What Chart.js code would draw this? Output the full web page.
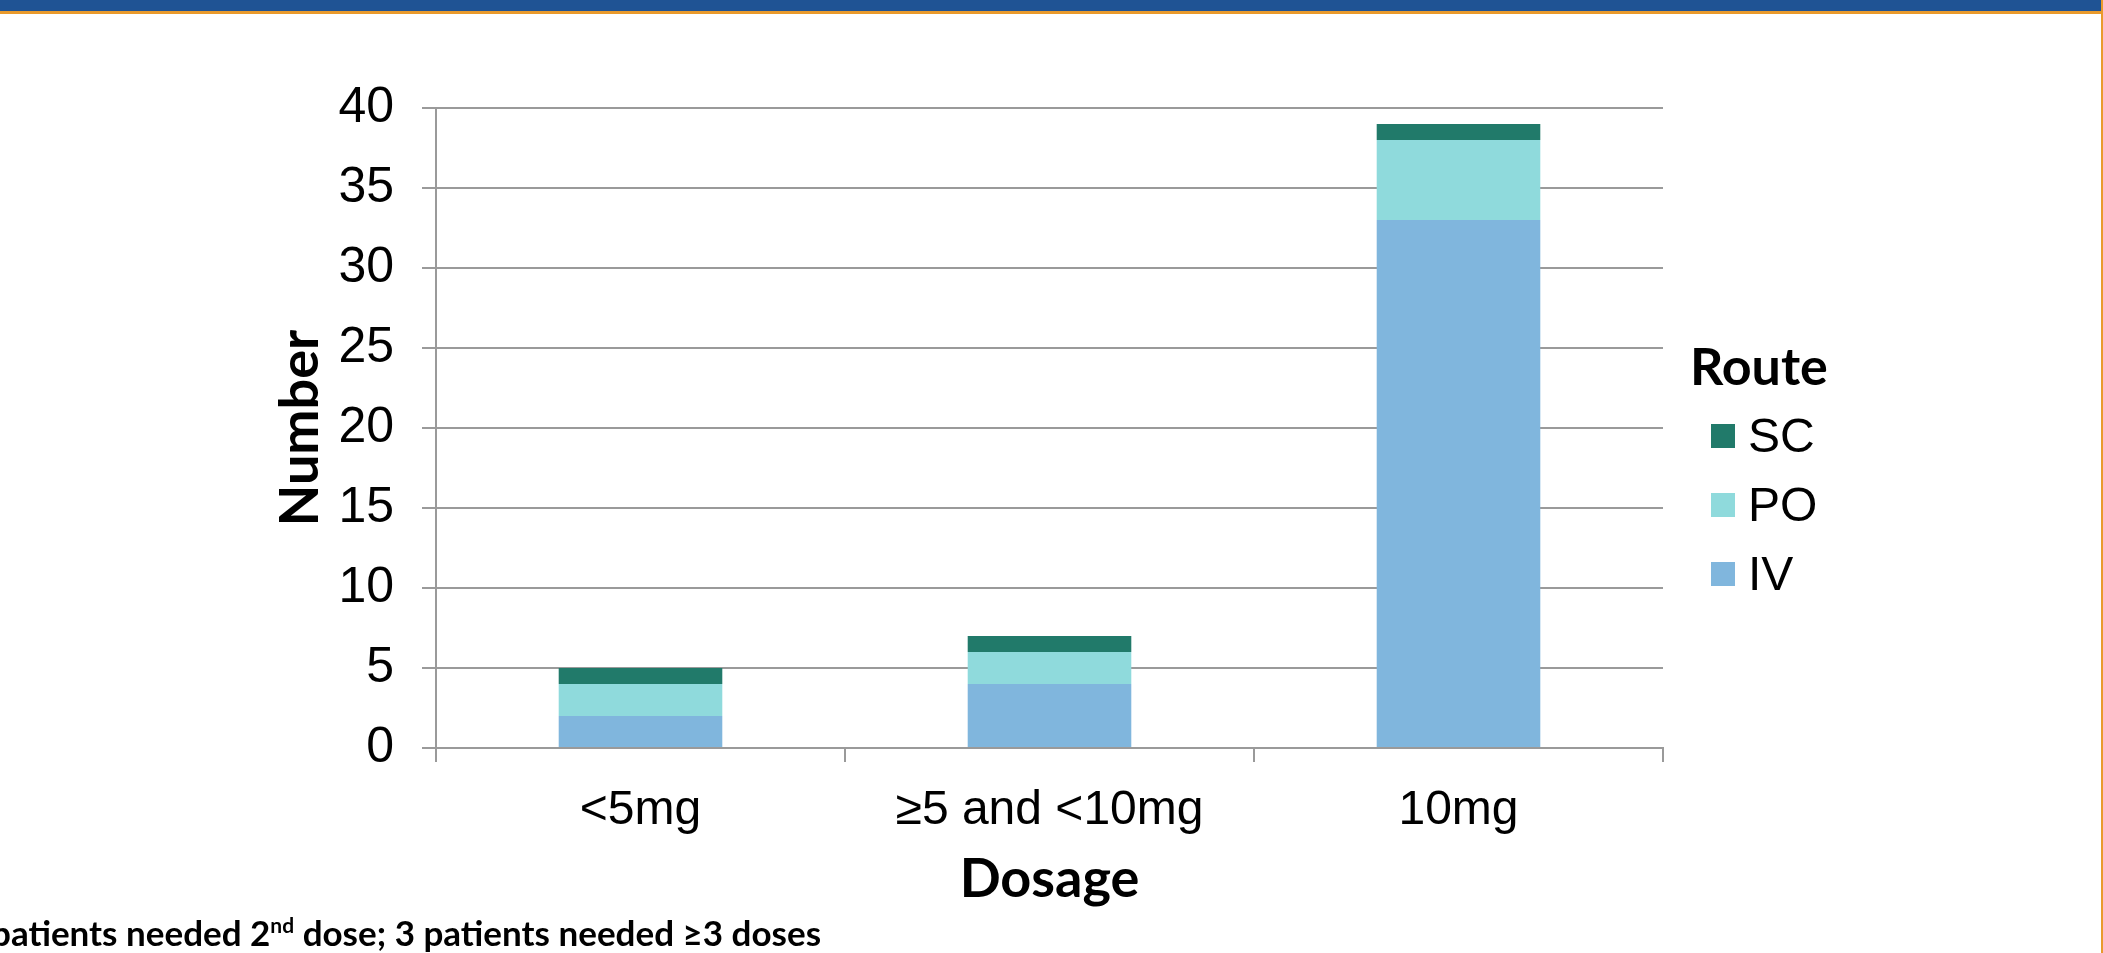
<!DOCTYPE html>
<html>
<head>
<meta charset="utf-8">
<script src="https://cdn.jsdelivr.net/npm/chart.js@4.4.1/dist/chart.umd.min.js"></script>
<style>
  html, body { margin: 0; padding: 0; background: #fff; }
  body { width: 2103px; height: 953px; position: relative; overflow: hidden; }
  #band { position: absolute; left: 0; top: 0; width: 2101px; height: 11px; background: #1f5394; }
  #bandLine { position: absolute; left: 0; top: 11px; width: 2103px; height: 3px; background: #e99a2c; }
  #edge { position: absolute; right: 0; top: 0; width: 2px; height: 953px; background: #e99a2c; }
  #wrap { position: absolute; left: 0; top: 0; width: 2103px; height: 953px; }
  #legend { position: absolute; left: 1690px; top: 335px; font-family: "Liberation Sans", Arial, sans-serif; }
  #legend .title { font-family: Lato, "Open Sans", sans-serif; font-weight: bold; font-size: 52px; line-height: 60px; margin-bottom: 6px; }
  #legend .item { display: flex; align-items: center; height: 69px; font-size: 48px; padding-left: 21px; }
  #legend .box { width: 24px; height: 24px; margin-right: 13px; }
  #note { position: absolute; left: -9px; top: 911px; font-family: Lato, "Open Sans", sans-serif; font-weight: bold; font-size: 35px; white-space: nowrap; }
  #note sup { font-size: 21px; }
</style>
</head>
<body>
<div id="band"></div>
<div id="bandLine"></div>
<div id="edge"></div>
<div id="wrap"><canvas id="chart" width="2103" height="953"></canvas></div>
<div id="legend"></div>
<div id="note">patients needed 2<sup>nd</sup> dose; 3 patients needed ≥3 doses</div>

<script>
// chart data
const dosages = ["<5mg", "≥5 and <10mg", "10mg"];
const ivCounts = [2, 4, 33];
const poCounts = [2, 2, 5];
const scCounts = [1, 1, 1];
const routeNames = ["IV", "PO", "SC"];
const routeColors = ["#80b6dd", "#8fdadc", "#217a6a"];

const axisGrey = "#9a9a9a";
const textFont = "'Liberation Sans', Arial, sans-serif";
const boldFont = "Lato, 'Open Sans', sans-serif";

const datasets = [ivCounts, poCounts, scCounts].map((vals, i) => ({
  label: routeNames[i],
  data: vals,
  backgroundColor: routeColors[i],
  borderWidth: 0,
  categoryPercentage: 1,
  barPercentage: 0.4,
}));

const chart = new Chart(document.getElementById("chart"), {
  type: "bar",
  data: { labels: dosages, datasets: datasets },
  options: {
    responsive: false,
    animation: false,
    layout: { padding: { left: 0, top: 108, right: 440, bottom: 0 } },
    plugins: { legend: { display: false }, tooltip: { enabled: false } },
    scales: {
      x: {
        stacked: true,
        grid: { drawOnChartArea: false, color: axisGrey, lineWidth: 2, tickLength: 14 },
        border: { color: axisGrey, width: 2 },
        ticks: { color: "#000", padding: 20, font: { family: textFont, size: 48 } },
        title: {
          display: true, text: "Dosage", color: "#000",
          font: { family: boldFont, size: 54, weight: "bold" },
          padding: { top: 0, bottom: 41 },
        },
        afterFit: (s) => { s.height = 205; },
      },
      y: {
        stacked: true,
        min: 0,
        max: 40,
        grid: { color: axisGrey, lineWidth: 2, tickLength: 14 },
        border: { color: axisGrey, width: 2 },
        ticks: { stepSize: 5, color: "#000", padding: 28, font: { family: textFont, size: 50 } },
        title: {
          display: true, text: "Number", color: "#000",
          font: { family: boldFont, size: 54, weight: "bold" },
          padding: { top: 268, bottom: 0 },
        },
        afterFit: (s) => { s.width = 436; },
      },
    },
  },
});

// legend in the slide lists the routes top-down (reverse of stacking order)
const legendEl = document.getElementById("legend");
legendEl.innerHTML = '<div class="title">Route</div>';
[...chart.data.datasets].reverse().forEach((ds) => {
  const row = document.createElement("div");
  row.className = "item";
  row.innerHTML = `<span class="box" style="background:${ds.backgroundColor}"></span>${ds.label}`;
  legendEl.appendChild(row);
});
</script>
</body>
</html>
